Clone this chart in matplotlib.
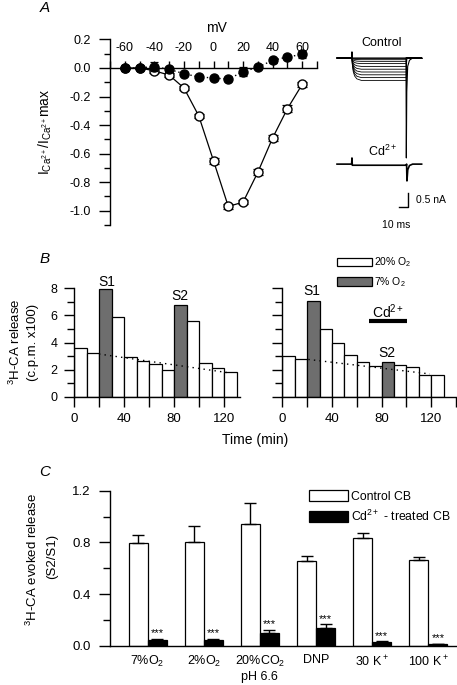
import numpy as np
import matplotlib
matplotlib.use("Agg")
import matplotlib.pyplot as plt
from matplotlib.patches import Patch
from matplotlib.ticker import MultipleLocator

plt.rcParams['font.family'] = ['Liberation Sans', 'DejaVu Sans']
plt.rcParams['mathtext.fontset'] = 'custom'
plt.rcParams['mathtext.rm'] = 'Liberation Sans'
plt.rcParams['mathtext.it'] = 'Liberation Sans:italic'
plt.rcParams['mathtext.bf'] = 'Liberation Sans:bold'
plt.rcParams['axes.unicode_minus'] = False
plt.rcParams['axes.linewidth'] = 1.0
plt.rcParams['font.size'] = 8.5

W, H = 457, 685

# ---- A: normalised I-V
mv = [-60, -50, -40, -30, -20, -10, 0, 10, 20, 30, 40, 50, 60]
iv_ctrl = [0.0, 0.0, -0.02, -0.05, -0.14, -0.335, -0.65, -0.97, -0.94, -0.73, -0.49, -0.285, -0.115]
iv_ctrl_err = [0.01, 0.01, 0.015, 0.015, 0.015, 0.015, 0.02, 0.015, 0.015, 0.02, 0.02, 0.025, 0.02]
iv_cd = [0.0, 0.0, 0.01, -0.01, -0.04, -0.063, -0.07, -0.079, -0.026, 0.005, 0.053, 0.077, 0.095]
iv_cd_err = [0.02, 0.015, 0.03, 0.02, 0.01, 0.01, 0.01, 0.01, 0.03, 0.01, 0.02, 0.015, 0.025]

# example current traces (ms, nA)
ctrl_amps = [0.0, 0.06, 0.12, 0.2, 0.3, 0.4, 0.5, 0.6, 0.7, 0.8]
step_t = [0, 16.2, 16.6, 17.0, 18.0, 19.5, 22.0, 27.0, 77.0, 77.4, 94]
step_shape = [0, 0, 0, 0.3, 0.6, 0.8, 0.93, 1.0, 1.0, 0, 0]
blip_t = [0, 16.2, 16.6, 17.0, 94]
blip_i = [0, 0, 0.22, 0, 0]
tail_t = [76.6, 77.0, 77.5, 78.5, 80.5, 84.0, 94]
tail_i = [0, -3.57, -1.2, -0.3, -0.08, 0, 0]
cd_t = [0, 16.2, 16.6, 17.0, 77.0, 77.3, 77.7, 78.6, 80.5, 84.0, 94]
cd_i = [0, 0, 0.22, -0.04, -0.04, 0, -0.6, -0.2, -0.05, 0, 0]
cd_offset = -3.79
sb_t = [69.2, 79.2, 79.2]
sb_i = [-5.32, -5.32, -4.82]

# ---- B: 3H-CA release per 10-min fraction
frac_start = [0, 10, 20, 30, 40, 50, 60, 70, 80, 90, 100, 110, 120]
rel_left = [3.6, 3.25, 7.95, 5.85, 2.95, 2.6, 2.4, 2.0, 6.8, 5.6, 2.5, 2.15, 1.8]
rel_right = [3.0, 2.77, 7.05, 5.0, 4.0, 3.1, 2.55, 2.3, 2.55, 2.32, 2.17, 1.6, 1.63]
low_o2 = [0, 0, 1, 0, 0, 0, 0, 0, 1, 0, 0, 0, 0]
base_left_t = [20, 125]
base_left = [3.15, 1.75]
base_right_t = [21, 119]
base_right = [2.75, 1.68]
cd_bar_t = [69.5, 100.3]
cd_bar_y = [5.56, 5.56]

# ---- C: evoked release S2/S1
conds = ['7%O$_2$', '2%O$_2$', '20%CO$_2$\npH 6.6', 'DNP', '30 K$^+$', '100 K$^+$']
ctrl = [0.795, 0.80, 0.944, 0.656, 0.836, 0.667]
ctrl_err = [0.062, 0.126, 0.161, 0.039, 0.038, 0.018]
cdr = [0.049, 0.049, 0.097, 0.138, 0.031, 0.013]
cdr_err = [0.004, 0.004, 0.029, 0.029, 0.004, 0.004]


def rect(x0, y0, x1, y1):
    return [x0 / W, 1 - y1 / H, (x1 - x0) / W, (y1 - y0) / H]


def px(x, y):
    return x / W, 1 - y / H


fig = plt.figure(figsize=(W / 100, H / 100), dpi=100)

# ---------------- A
ax = fig.add_axes(rect(110, 39.4, 317, 225))
ax.set_xlim(-70, 70)
ax.set_ylim(-1.1, 0.2)
ax.spines['right'].set_visible(False)
ax.spines['bottom'].set_visible(False)
ax.spines['top'].set_position(('data', 0))
ax.xaxis.set_ticks_position('top')
ax.set_xticks(range(-60, 61, 20))
ax.xaxis.set_minor_locator(MultipleLocator(10))
ax.tick_params(axis='x', which='both', direction='out', length=5, width=1, pad=5, labelsize=9)
ax.set_yticks(np.arange(-1.0, 0.21, 0.2))
ax.set_yticklabels(['%.1f' % v if abs(v) > 1e-9 else '0.0' for v in np.arange(-1.0, 0.21, 0.2)])
ax.yaxis.set_minor_locator(MultipleLocator(0.1))
ax.tick_params(axis='y', which='major', direction='out', length=8, width=1, pad=6, labelsize=9)
ax.tick_params(axis='y', which='minor', direction='out', length=4.5, width=1)
ax.errorbar(mv, iv_ctrl, yerr=iv_ctrl_err, fmt='-o', color='black', mfc='white', mec='black',
            ms=6.5, lw=0.9, capsize=3.6, elinewidth=0.9, capthick=0.9, zorder=3)
ax.errorbar(mv, iv_cd, yerr=iv_cd_err, fmt='o', ls=(0, (1, 2)), color='black', mfc='black',
            ms=6.5, lw=1.0, capsize=3, elinewidth=0.9, capthick=0.9, zorder=4)
fig.text(*px(216, 28), 'mV', ha='center', va='center', fontsize=10)
fig.text(*px(45, 132), r'I$_{\mathrm{Ca}^{2+}}$/I$_{\mathrm{Ca}^{2+}}$max', rotation=90,
         ha='center', va='center', fontsize=10)
fig.text(*px(45, 8), 'A', style='italic', ha='center', va='center', fontsize=11)

# traces
axt = fig.add_axes(rect(330, 30, 457, 230))
axt.axis('off')
axt.set_xlim(-7.8, 133.3)
axt.set_ylim(-6.143, 1.0)
for a in ctrl_amps:
    axt.plot(step_t, [-a * s for s in step_shape], color='black', lw=0.6)
axt.plot(blip_t, blip_i, color='black', lw=0.8)
axt.plot(tail_t, tail_i, color='black', lw=0.8)
axt.plot(cd_t, [v + cd_offset for v in cd_i], color='black', lw=1.2)
axt.plot(sb_t, sb_i, color='black', lw=1.0)
fig.text(*px(382, 43), 'Control', ha='center', va='center', fontsize=9)
fig.text(*px(383, 151), r'Cd$^{2+}$', ha='center', va='center', fontsize=9)
fig.text(*px(416, 200), '0.5 nA', ha='left', va='center', fontsize=7.5)
fig.text(*px(396, 225), '10 ms', ha='center', va='center', fontsize=7.5)

# ---------------- B
bar_cols = ['#6e6e6e' if s else 'white' for s in low_o2]
axL = fig.add_axes(rect(74, 288.3, 240.25, 396.7))
axR = fig.add_axes(rect(282.3, 288.3, 456, 396.7))
for a, vals, bt, bv in [(axL, rel_left, base_left_t, base_left),
                        (axR, rel_right, base_right_t, base_right)]:
    a.bar(frac_start, vals, width=10, align='edge', color=bar_cols, edgecolor='black', lw=0.9, zorder=2)
    a.plot(bt, bv, color='black', ls=(0, (1, 3)), lw=1.0, zorder=3)
    a.set_ylim(0, 8)
    a.spines['top'].set_visible(False)
    a.spines['right'].set_visible(False)
    a.set_xticks([0, 40, 80, 120])
    a.xaxis.set_minor_locator(MultipleLocator(20))
    a.yaxis.set_major_locator(MultipleLocator(2))
    a.yaxis.set_minor_locator(MultipleLocator(1))
    a.tick_params(axis='x', which='both', direction='out', length=7, width=1, pad=5, labelsize=9.5)
    a.tick_params(axis='y', which='major', direction='out', length=7, width=1, pad=5, labelsize=9)
    a.tick_params(axis='y', which='minor', direction='out', length=5, width=1)
axL.set_xlim(0, 133)
axR.set_xlim(0, 140)
axR.set_yticklabels([])
axL.text(26, 8.45, 'S1', ha='center', va='center', fontsize=10, clip_on=False)
axL.text(85, 7.4, 'S2', ha='center', va='center', fontsize=10)
axR.text(23.5, 7.8, 'S1', ha='center', va='center', fontsize=10)
axR.text(84.7, 3.2, 'S2', ha='center', va='center', fontsize=10)
axR.plot(cd_bar_t, cd_bar_y, color='black', lw=3, solid_capstyle='butt')
axR.text(85, 6.25, r'Cd$^{2+}$', ha='center', va='center', fontsize=10)
legB = axR.legend(handles=[Patch(facecolor='white', edgecolor='black', lw=0.9, label='20% O$_2$'),
                           Patch(facecolor='#6e6e6e', edgecolor='black', lw=0.9, label='7% O$_2$')],
                  loc='upper left', bbox_to_anchor=px(337, 255.5), bbox_transform=fig.transFigure,
                  frameon=False, fontsize=7.5, handlelength=3.4, handleheight=0.9,
                  handletextpad=0.2, labelspacing=0.55, borderpad=0, borderaxespad=0)
fig.text(*px(15, 342), r'$^3$H-CA release', rotation=90, ha='center', va='center', fontsize=9.5)
fig.text(*px(33, 342), '(c.p.m. x100)', rotation=90, ha='center', va='center', fontsize=9.5)
fig.text(*px(255, 440), 'Time (min)', ha='center', va='center', fontsize=10)
fig.text(*px(45, 259), 'B', style='italic', ha='center', va='center', fontsize=11)

# ---------------- C
axC = fig.add_axes(rect(110, 490.7, 457, 646))
x = np.arange(len(conds))
bw = 0.34
axC.bar(x - bw / 2, ctrl, bw, color='white', edgecolor='black', lw=0.9,
        yerr=[[0] * len(ctrl), ctrl_err], capsize=4.3,
        error_kw=dict(elinewidth=1, capthick=1, ecolor='black'))
axC.bar(x + bw / 2, cdr, bw, color='black', edgecolor='black', lw=0.9,
        yerr=[[0] * len(cdr), cdr_err], capsize=4.3,
        error_kw=dict(elinewidth=1, capthick=1, ecolor='black'))
for xi, v, e in zip(x, cdr, cdr_err):
    axC.text(xi + bw / 2, v + e + 0.005, '***', ha='center', va='bottom', fontsize=8)
axC.set_xlim(-0.67, 5.51)
axC.set_ylim(0, 1.2)
axC.spines['top'].set_visible(False)
axC.spines['right'].set_visible(False)
axC.set_xticks(x)
axC.set_xticklabels(conds)
axC.tick_params(axis='x', length=0, pad=6, labelsize=9)
axC.set_yticks([0.0, 0.4, 0.8, 1.2])
axC.set_yticklabels(['0.0', '0.4', '0.8', '1.2'])
axC.yaxis.set_minor_locator(MultipleLocator(0.2))
axC.tick_params(axis='y', which='major', direction='out', length=8, width=1, pad=6, labelsize=9.5)
axC.tick_params(axis='y', which='minor', direction='out', length=5, width=1)
axC.legend(handles=[Patch(facecolor='white', edgecolor='black', lw=0.9, label='Control CB'),
                    Patch(facecolor='black', edgecolor='black', lw=0.9, label=r'Cd$^{2+}$ - treated CB')],
           loc='upper left', bbox_to_anchor=px(309, 490), bbox_transform=fig.transFigure,
           frameon=False, fontsize=8.8, handlelength=3.2, handleheight=1.0,
           handletextpad=0.25, labelspacing=0.5, borderpad=0, borderaxespad=0)
fig.text(*px(32, 560), r'$^3$H-CA evoked release', rotation=90, ha='center', va='center', fontsize=9.5)
fig.text(*px(52, 556), '(S2/S1)', rotation=90, ha='center', va='center', fontsize=9.5)
fig.text(*px(45, 472), 'C', style='italic', ha='center', va='center', fontsize=11)

fig.savefig('out.png', dpi=100)
